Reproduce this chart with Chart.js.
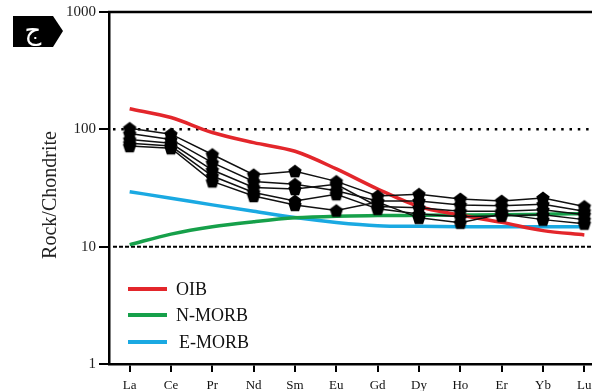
<!DOCTYPE html>
<html>
<head>
<meta charset="utf-8">
<script src="https://cdn.jsdelivr.net/npm/chart.js@4.4.1/dist/chart.umd.min.js"></script>
<style>
  html, body { margin: 0; padding: 0; background: #fff; overflow: hidden; }
  #wrap { width: 592px; height: 391px; overflow: hidden; }
  canvas { display: block; }
</style>
</head>
<body>
<div id="wrap"><canvas id="reeChart" width="614" height="391"></canvas></div>
<script>
// REE spider diagram, chondrite normalised
const elements = ['La', 'Ce', 'Pr', 'Nd', 'Sm', 'Eu', 'Gd', 'Dy', 'Ho', 'Er', 'Yb', 'Lu'];

const oib   = [150, 126, 94, 77, 65, 46, 31, 22, 18.6, 16.1, 13.7, 12.6];
const nMorb = [10.4, 12.8, 14.8, 16.3, 17.6, 18.2, 18.4, 18.5, 18.6, 18.7, 18.9, 19.1];
const eMorb = [29.4, 25.9, 22.7, 20.0, 17.7, 16.1, 15.1, 14.9, 14.8, 14.8, 14.8, 14.8];

const sample1 = [102, 91, 61, 41, 44, 36, 27, 28, 25.5, 24.5, 26, 22];
const sample2 = [92, 82, 52, 36, 34, 30, 24.5, 24.5, 22.7, 22.3, 23, 20];
const sample3 = [82, 76, 45, 32, 31, 34, 22, 21.5, 20, 20, 20.6, 18.7];
const sample4 = [76, 72, 40, 29, 24.5, 28, 21, 19, 18, 18.3, 18.7, 17];
const sample5 = [72, 69, 36, 27, 22.7, 20.3, 24, 17.6, 16, 19, 17, 15.7];

const yTicks = [1, 10, 100, 1000];

const serif = '"Liberation Serif", "Times New Roman", serif';

// filled pentagon used as the sample marker
function pentagonMarker(r) {
  const c = document.createElement('canvas');
  const s = Math.ceil(r * 2) + 2;
  c.width = c.height = s;
  const g = c.getContext('2d');
  g.fillStyle = '#000';
  g.beginPath();
  for (let i = 0; i < 5; i++) {
    const a = -Math.PI / 2 + i * 2 * Math.PI / 5;
    g.lineTo(s / 2 + r * Math.cos(a), s / 2 + r * Math.sin(a) + 0.6);
  }
  g.closePath();
  g.fill();
  return c;
}
const marker = pentagonMarker(7);

function sampleSet(data) {
  return {
    data: data,
    borderColor: '#111',
    borderWidth: 1.5,
    pointStyle: marker,
    pointRadius: 7,
    tension: 0,
    order: 1,
    isSample: true
  };
}

function modelSet(label, data, color) {
  return {
    label: label,
    data: data,
    borderColor: color,
    borderWidth: 3.5,
    pointRadius: 0,
    cubicInterpolationMode: 'monotone',
    order: 2
  };
}

// dotted line at 100 and dashed line at 10
const refLines = {
  id: 'refLines',
  beforeDatasetsDraw(chart) {
    const { ctx, chartArea, scales } = chart;
    ctx.save();
    ctx.strokeStyle = '#000';
    ctx.lineCap = 'butt';
    let y = scales.y.getPixelForValue(100);
    ctx.lineWidth = 2.5;
    ctx.setLineDash([2.5, 5.8]);
    ctx.beginPath();
    ctx.moveTo(chartArea.left + 4, y);
    ctx.lineTo(chartArea.right, y);
    ctx.stroke();
    y = scales.y.getPixelForValue(10);
    ctx.lineWidth = 2;
    ctx.setLineDash([4, 2]);
    ctx.beginPath();
    ctx.moveTo(chartArea.left + 4, y);
    ctx.lineTo(chartArea.right, y);
    ctx.stroke();
    ctx.restore();
  }
};

// top frame line, y title, legend and the corner tag
const decorations = {
  id: 'decorations',
  afterDraw(chart) {
    const { ctx, chartArea } = chart;
    ctx.save();
    ctx.strokeStyle = '#000';
    ctx.lineWidth = 2.5;
    ctx.beginPath();
    ctx.moveTo(chartArea.left - 1, chartArea.top);
    ctx.lineTo(chartArea.right, chartArea.top);
    ctx.stroke();

    ctx.save();
    ctx.translate(51, 195);
    ctx.rotate(-Math.PI / 2);
    ctx.fillStyle = '#222';
    ctx.font = '20px ' + serif;
    ctx.textAlign = 'center';
    ctx.textBaseline = 'middle';
    ctx.fillText('Rock/Chondrite', 0, 0);
    ctx.restore();

    const models = chart.data.datasets.filter(d => !d.isSample);
    const rows = [289, 315, 342];
    ctx.font = '18px ' + serif;
    ctx.textAlign = 'left';
    ctx.textBaseline = 'middle';
    models.forEach((d, i) => {
      ctx.strokeStyle = d.borderColor;
      ctx.lineWidth = 4;
      ctx.beginPath();
      ctx.moveTo(128, rows[i]);
      ctx.lineTo(167, rows[i]);
      ctx.stroke();
      ctx.fillStyle = '#111';
      ctx.fillText(d.label, i === 2 ? 179 : 176, rows[i] + 1);
    });

    ctx.fillStyle = '#000';
    ctx.beginPath();
    ctx.moveTo(13, 16);
    ctx.lineTo(53, 16);
    ctx.lineTo(63, 31);
    ctx.lineTo(53, 47);
    ctx.lineTo(13, 47);
    ctx.closePath();
    ctx.fill();
    ctx.fillStyle = '#fff';
    ctx.font = '26px "DejaVu Sans", "Noto Sans", sans-serif';
    ctx.textAlign = 'center';
    ctx.textBaseline = 'middle';
    ctx.fillText('ج', 33, 32);
    ctx.restore();
  }
};

new Chart(document.getElementById('reeChart'), {
  type: 'line',
  data: {
    labels: elements,
    datasets: [
      sampleSet(sample1),
      sampleSet(sample2),
      sampleSet(sample3),
      sampleSet(sample4),
      sampleSet(sample5),
      modelSet('OIB', oib, '#e3262b'),
      modelSet('N-MORB', nMorb, '#16a04a'),
      modelSet('E-MORB', eMorb, '#1aa9e2')
    ]
  },
  options: {
    responsive: false,
    animation: false,
    layout: { padding: { top: 10, right: 9, bottom: 0, left: 0 } },
    plugins: {
      legend: { display: false },
      tooltip: { enabled: false }
    },
    scales: {
      x: {
        type: 'category',
        offset: true,
        grid: { display: true, drawOnChartArea: false, drawTicks: true, tickLength: 8, offset: false, color: '#000', lineWidth: 2 },
        border: { display: true, color: '#000', width: 2.5 },
        ticks: { color: '#111', font: { family: serif, size: 13 }, padding: 6, maxRotation: 0, autoSkip: false },
        afterFit: s => { s.height = 27; }
      },
      y: {
        type: 'logarithmic',
        min: 1,
        max: 1000,
        afterBuildTicks: s => { s.ticks = yTicks.map(v => ({ value: v })); },
        grid: { display: true, drawOnChartArea: false, drawTicks: true, tickLength: 10, color: '#000', lineWidth: 2 },
        border: { display: true, color: '#000', width: 2.5 },
        ticks: { color: '#222', font: { family: serif, size: 15 }, padding: 3, callback: v => String(v) },
        afterFit: s => { s.width = 109; }
      }
    }
  },
  plugins: [refLines, decorations]
});
</script>
</body>
</html>
